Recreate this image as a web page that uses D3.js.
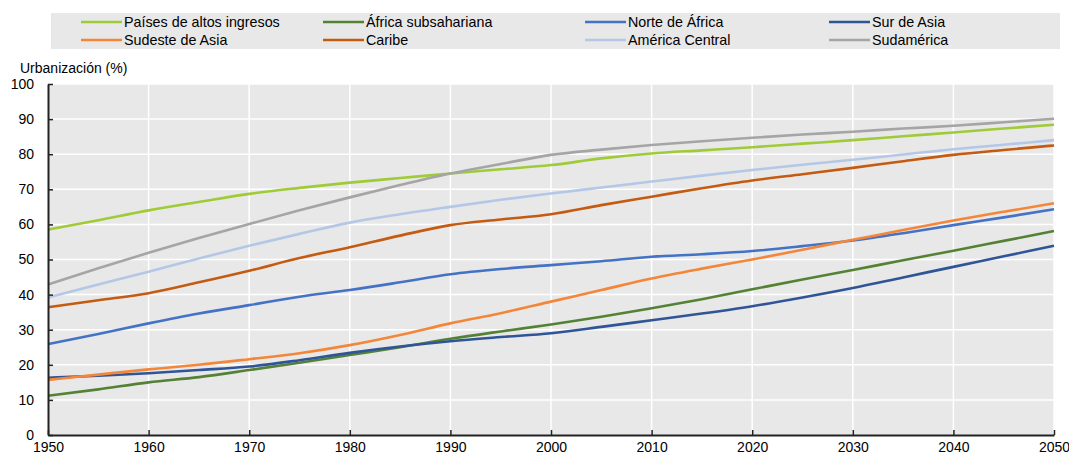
<!DOCTYPE html>
<html><head><meta charset="utf-8">
<script src="https://cdn.jsdelivr.net/npm/d3@7"></script>
<style>body{margin:0;background:#fff;}svg{display:block;font-family:"Liberation Sans",Arial,sans-serif;}</style>
</head><body><svg id="c" width="1069" height="457"></svg>
<script>
const years = d3.range(1950, 2051, 5);
const seriesNames = ["Países de altos ingresos","África subsahariana","Norte de África","Sur de Asia","Sudeste de Asia","Caribe","América Central","Sudamérica"];
const seriesColors = ["#9fcb37","#548235","#4472c4","#2f5597","#f4863a","#c55a11","#b4c7e7","#a5a5a5"];
const altosIngresos = [58.5,61.2,64.0,66.4,68.7,70.4,71.9,73.2,74.5,75.7,76.9,78.8,80.2,81.1,82.0,83.0,84.0,85.1,86.2,87.3,88.4];
const africaSubsahariana = [11.2,13.0,15.0,16.5,18.5,20.6,22.8,25.0,27.4,29.5,31.5,33.7,36.1,38.7,41.5,44.3,47.0,49.8,52.5,55.3,58.1];
const norteAfrica = [25.9,28.8,31.8,34.6,37.0,39.4,41.3,43.5,45.8,47.3,48.4,49.5,50.8,51.5,52.4,53.8,55.4,57.5,59.8,62.0,64.3];
const surAsia = [16.3,16.9,17.6,18.5,19.5,21.3,23.4,25.2,26.7,27.9,29.0,30.8,32.7,34.6,36.7,39.2,41.9,44.9,47.9,50.9,53.9];
const sudesteAsia = [15.7,17.2,18.7,20.0,21.6,23.3,25.6,28.5,31.8,34.7,38.0,41.3,44.6,47.4,50.0,52.8,55.6,58.4,61.1,63.6,66.0];
const caribe = [36.4,38.4,40.4,43.5,46.8,50.4,53.5,56.8,59.8,61.4,62.9,65.5,67.9,70.3,72.5,74.3,76.1,78.0,79.8,81.2,82.5];
const americaCentral = [39.2,42.9,46.5,50.3,53.9,57.3,60.5,62.9,65.0,67.0,68.8,70.5,72.2,73.9,75.5,77.0,78.4,79.9,81.4,82.7,84.0];
const sudamerica = [42.9,47.5,51.9,56.1,60.1,64.0,67.7,71.2,74.5,77.2,79.8,81.3,82.6,83.7,84.7,85.6,86.4,87.3,88.1,89.1,90.1];
const allValues = [altosIngresos,africaSubsahariana,norteAfrica,surAsia,sudesteAsia,caribe,americaCentral,sudamerica];
const xTicks = d3.range(1950, 2051, 10);
const yTicks = d3.range(0, 101, 10);
const yTitle = "Urbanización (%)";

const svg = d3.select("#c");
const m = {l:48, r:1054, t:84, b:435};
const x = d3.scaleLinear().domain([1950,2050]).range([m.l, m.r]);
const y = d3.scaleLinear().domain([0,100]).range([m.b, m.t]);
const FS = 14;

// legend
svg.append("rect").attr("x",51).attr("y",13).attr("width",1009).attr("height",36).attr("fill","#e8e8e8");
const colX = [81, 323, 585, 829];
seriesNames.forEach((n,i)=>{
  const col = i%4, row = Math.floor(i/4);
  const gx = colX[col], gy = 22 + row*18;
  svg.append("line").attr("x1",gx).attr("x2",gx+41).attr("y1",gy).attr("y2",gy)
    .attr("stroke",seriesColors[i]).attr("stroke-width",2.5);
  svg.append("text").attr("x",gx+43).attr("y",gy+5).attr("font-size",14.3).attr("fill","#000").text(n);
});

// plot bg
svg.append("rect").attr("x",m.l).attr("y",m.t).attr("width",m.r-m.l).attr("height",m.b-m.t).attr("fill","#e8e8e8");
// grid
svg.append("g").selectAll("line").data(yTicks.filter(d=>d>0)).join("line")
  .attr("x1",m.l).attr("x2",m.r).attr("y1",d=>y(d)).attr("y2",d=>y(d)).attr("stroke","#fff").attr("stroke-width",1.5);
svg.append("g").selectAll("line").data(xTicks.filter(d=>d>1950)).join("line")
  .attr("x1",d=>x(d)).attr("x2",d=>x(d)).attr("y1",m.t).attr("y2",m.b).attr("stroke","#fff").attr("stroke-width",1.5);

// lines
const line = d3.line().x((d,i)=>x(years[i])).y(d=>y(d)).curve(d3.curveMonotoneX);
allValues.forEach((vals,i)=>{
  svg.append("path").attr("d",line(vals)).attr("fill","none")
    .attr("stroke",seriesColors[i]).attr("stroke-width",2.6).attr("stroke-linejoin","round");
});

// axes
const yAxis = svg.append("g").attr("transform",`translate(${m.l},0)`)
  .call(d3.axisLeft(y).tickValues(yTicks).tickSize(-5).tickSizeOuter(0).tickPadding(14));
yAxis.select(".domain").attr("stroke","#222").attr("stroke-width",2);
yAxis.selectAll(".tick line").attr("stroke","#222").attr("stroke-width",1.5);
yAxis.selectAll("text").attr("font-size",FS).attr("fill","#000").attr("font-family","Liberation Sans, Arial, sans-serif").attr("x",-14);
const xAxis = svg.append("g").attr("transform",`translate(0,${m.b})`)
  .call(d3.axisBottom(x).tickValues(xTicks).tickFormat(d3.format("d")).tickSize(-5).tickSizeOuter(0));
xAxis.select(".domain").attr("stroke","#222").attr("stroke-width",2);
xAxis.selectAll(".tick line").attr("stroke","#222").attr("stroke-width",1.5);
xAxis.selectAll("text").attr("font-size",FS).attr("fill","#000").attr("font-family","Liberation Sans, Arial, sans-serif").attr("y",7).attr("dy","0.71em");

svg.append("text").attr("x",20).attr("y",73).attr("font-size",FS).attr("fill","#000").text(yTitle);
</script></body></html>
